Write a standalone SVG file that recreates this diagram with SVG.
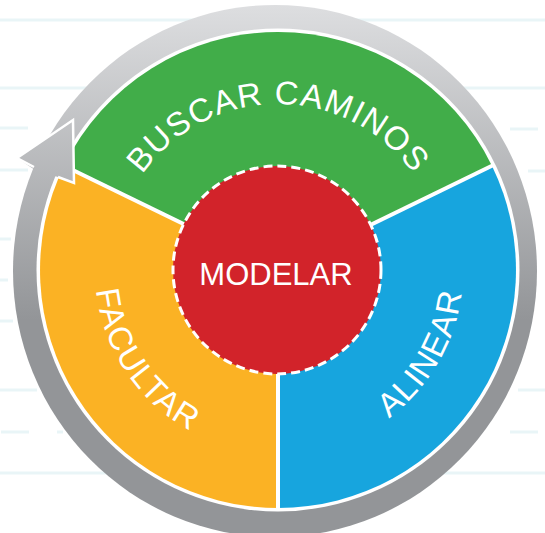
<svg xmlns="http://www.w3.org/2000/svg" width="545" height="533" viewBox="0 0 545 533">
  <defs>
    <linearGradient id="gray" gradientUnits="userSpaceOnUse" x1="0" y1="5" x2="0" y2="320">
      <stop offset="0" stop-color="#dddee0"/>
      <stop offset="1" stop-color="#939598"/>
    </linearGradient>
    <path id="pTop" d="M 112 270 A 166 166 0 0 1 444 270"/>
    <path id="pLeft" d="M 113.5 189.8 A 183 183 0 0 0 290.8 452.6"/>
    <path id="pRight" d="M 278 455 A 185 185 0 0 0 438.2 177.5"/>
  </defs>
  <style>
    .bg { stroke: #e9f5f7; stroke-width: 3; }
    .lbl { font-family: "Liberation Sans", Arial, Helvetica, sans-serif; font-size: 33px; fill: #ffffff; letter-spacing: 1.2px; }
    .div { stroke: #ffffff; stroke-width: 4; }
  </style>
  <rect width="545" height="533" fill="#ffffff"/>
  <g id="background-lines">
    <line class="bg" x1="0" y1="20" x2="545" y2="20"/>
    <line class="bg" x1="0" y1="88" x2="545" y2="88"/>
    <line class="bg" x1="0" y1="128" x2="28" y2="128"/>
    <line class="bg" x1="510" y1="129" x2="538" y2="129"/>
    <line class="bg" x1="0" y1="170" x2="28" y2="170"/>
    <line class="bg" x1="528" y1="171" x2="545" y2="171"/>
    <line class="bg" x1="0" y1="239" x2="11" y2="239"/>
    <line class="bg" x1="0" y1="280" x2="8" y2="280"/>
    <line class="bg" x1="0" y1="321" x2="13" y2="321"/>
    <line class="bg" x1="0" y1="390" x2="37" y2="390"/>
    <line class="bg" x1="518" y1="390" x2="545" y2="390"/>
    <line class="bg" x1="1" y1="432" x2="29" y2="432"/>
    <line class="bg" x1="57" y1="432" x2="63" y2="432"/>
    <line class="bg" x1="510" y1="432" x2="538" y2="432"/>
    <line class="bg" x1="0" y1="473" x2="545" y2="473"/>
  </g>
  <g id="cycle-ring">
    <ellipse cx="275" cy="271" rx="262" ry="266" fill="url(#gray)"/>
    <circle cx="278" cy="270" r="241.5" fill="#ffffff"/>
  </g>
  <g id="buscar-caminos">
    <path d="M278,270 L64.1,165.7 A238,238 0 0 1 491.9,165.7 Z" fill="#41ad49"/>
    <text class="lbl"><textPath href="#pTop" startOffset="50%" text-anchor="middle">BUSCAR CAMINOS</textPath></text>
  </g>
  <g id="alinear">
    <path d="M278,270 L491.9,165.7 A238,238 0 0 1 278,508 Z" fill="#17a5de"/>
    <text class="lbl"><textPath href="#pRight" startOffset="50%" text-anchor="middle">ALINEAR</textPath></text>
  </g>
  <g id="facultar">
    <path d="M278,270 L278,508 A238,238 0 0 1 64.1,165.7 Z" fill="#fbb224"/>
    <text class="lbl"><textPath href="#pLeft" startOffset="50%" text-anchor="middle">FACULTAR</textPath></text>
  </g>
  <g id="connectors">
    <line class="div" x1="278" y1="270" x2="493" y2="165.2"/>
    <line class="div" x1="278" y1="270" x2="63" y2="165.2"/>
    <line class="div" x1="278" y1="270" x2="278" y2="510"/>
  </g>
  <g id="arrowhead">
    <polygon points="17,158 73,120 74,183 58,177 35,170" fill="url(#gray)"/>
    <polyline points="34,167 17,158 73,120 74,183 58,177" fill="none" stroke="#ffffff" stroke-width="2.5" stroke-linejoin="miter"/>
  </g>
  <g id="modelar">
    <circle cx="277" cy="270" r="104" fill="#d2232a" stroke="#ffffff" stroke-width="3" stroke-dasharray="9 5"/>
    <text x="276" y="285" text-anchor="middle" font-family="Liberation Sans, Arial, Helvetica, sans-serif" font-size="31" fill="#ffffff">MODELAR</text>
  </g>
</svg>
